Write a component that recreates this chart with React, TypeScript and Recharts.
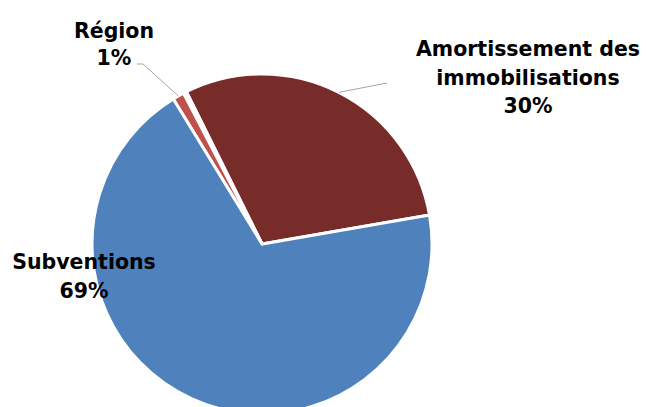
import React from 'react';
import { PieChart, Pie, Cell } from 'recharts';

// ---- Data ----
const categories = ['Amortissement des immobilisations', 'Autres', 'Région', 'Subventions'];
const values = [29.6, 0.3, 1.1, 69.0];
const labelTexts = [['Amortissement des', 'immobilisations'], [], ['Région'], ['Subventions']];
const colors = ['#772C2A', '#F79646', '#C0504D', '#4F81BD'];

const data = categories.map((name, i) => ({ name, value: values[i] }));

// ---- Layout (label placement relative to pie centre) ----
const CX = 262;
const CY = 244;
const R = 170;
const labelLayout: Record<number, { dx: number; dy: number; lh: number; leader?: number[][] }> = {
  0: { dx: 266, dy: -188, lh: 28.5, leader: [[125, -161]] },
  2: { dx: -148, dy: -206, lh: 27, leader: [[-119, -180], [-125, -180]] },
  3: { dx: -178, dy: 25, lh: 29 },
};

const RADIAN = Math.PI / 180;

const renderLabel = (props: any) => {
  const { cx, cy, midAngle, outerRadius, percent, index } = props;
  const lay = labelLayout[index];
  if (!lay) return null;
  const lines = [...labelTexts[index], `${Math.round(percent * 100)}%`];
  const x = cx + lay.dx;
  let leader = null;
  if (lay.leader) {
    const sx = cx + outerRadius * Math.cos(-midAngle * RADIAN);
    const sy = cy + outerRadius * Math.sin(-midAngle * RADIAN);
    const pts = [[sx, sy], ...lay.leader.map(([dx, dy]) => [cx + dx, cy + dy])];
    leader = (
      <polyline
        points={pts.map((p) => p.join(',')).join(' ')}
        fill="none"
        stroke="#A6A6A6"
        strokeWidth={1}
      />
    );
  }
  return (
    <g key={`lbl-${index}`}>
      {leader}
      {lines.map((t, k) => (
        <text
          key={k}
          x={x}
          y={cy + lay.dy + k * lay.lh}
          textAnchor="middle"
          fontFamily="'DejaVu Sans', Verdana, sans-serif"
          fontWeight="bold"
          fontSize={20.5}
          fill="#000"
        >
          {t}
        </text>
      ))}
    </g>
  );
};

export default function App() {
  return (
    <div style={{ position: 'absolute', left: 0, top: 0, width: 646, height: 407, background: '#fff' }}>
      <PieChart width={646} height={407} margin={{ top: 0, right: 0, bottom: 0, left: 0 }}>
        <Pie
          data={data}
          dataKey="value"
          nameKey="name"
          cx={CX}
          cy={CY}
          outerRadius={R}
          startAngle={9.85}
          endAngle={369.85}
          stroke="#FFFFFF"
          strokeWidth={3}
          label={renderLabel}
          labelLine={false}
          isAnimationActive={false}
        >
          {data.map((d, i) => (
            <Cell key={d.name} fill={colors[i]} />
          ))}
        </Pie>
      </PieChart>
    </div>
  );
}
